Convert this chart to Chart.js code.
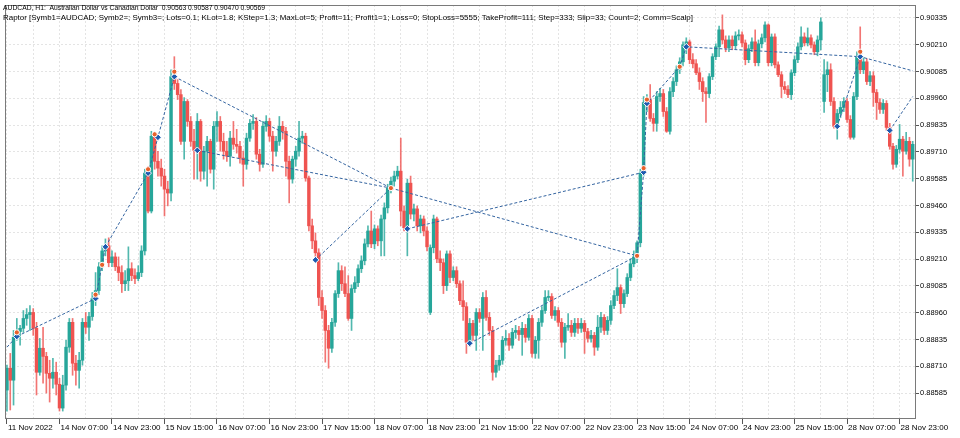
<!DOCTYPE html>
<html>
<head>
<meta charset="utf-8">
<script src="https://cdn.jsdelivr.net/npm/chart.js@4.4.0/dist/chart.umd.min.js"></script>
<style>
  html, body { margin: 0; padding: 0; background: #fff; }
  #wrap { width: 960px; height: 438px; }
</style>
</head>
<body>
<div id="wrap"><canvas id="myChart" width="960" height="438"></canvas></div>
<script>
// AUDCAD H1 candles, 11 Nov 15:00 .. 29 Nov 2022 (one entry per hourly bar)
const opens = [
0.88599,0.88701,0.88645,0.88845,0.88872,0.88887,0.88933,0.88951,0.88961,0.88887,
0.88682,0.88794,0.88756,0.88677,0.88654,0.88682,0.88626,0.88515,0.88622,0.88799,
0.88915,0.88724,0.88691,0.88738,0.88915,0.88892,0.88942,0.89026,0.89063,0.89174,
0.89248,0.89272,0.89193,0.89220,0.89174,0.89147,0.89095,0.89109,0.89165,0.89133,
0.89119,0.89147,0.89248,0.89611,0.89434,0.89783,0.89666,0.89634,0.89597,0.89536,
0.89518,0.90061,0.90029,0.89977,0.89759,0.89945,0.89852,0.89759,0.89717,0.89852,
0.89620,0.89713,0.89759,0.89629,0.89829,0.89852,0.89759,0.89713,0.89690,0.89774,
0.89745,0.89736,0.89681,0.89652,0.89774,0.89843,0.89852,0.89699,0.89652,0.89829,
0.89852,0.89783,0.89713,0.89759,0.89829,0.89806,0.89666,0.89583,0.89676,0.89713,
0.89774,0.89783,0.89588,0.89365,0.89295,0.89239,0.89031,0.88970,0.88877,0.88794,
0.88915,0.89049,0.89156,0.89095,0.89049,0.88933,0.89072,0.89100,0.89165,0.89202,
0.89281,0.89341,0.89281,0.89351,0.89295,0.89397,0.89449,0.89541,0.89573,0.89597,
0.89620,0.89434,0.89356,0.89564,0.89420,0.89444,0.89365,0.89397,0.89341,0.88961,
0.89263,0.89397,0.89211,0.89193,0.89086,0.89234,0.89124,0.89156,0.89095,0.89016,
0.88988,0.88822,0.88910,0.88854,0.88961,0.88933,0.89031,0.88938,0.88877,0.88682,
0.88715,0.88738,0.88831,0.88840,0.88808,0.88868,0.88877,0.88858,0.88887,0.88845,
0.88933,0.88770,0.88831,0.88915,0.88970,0.89031,0.89035,0.88947,0.88970,0.88915,
0.88822,0.88892,0.88901,0.88868,0.88910,0.88887,0.88910,0.88872,0.88840,0.88854,
0.88799,0.88892,0.88938,0.88877,0.88924,0.88993,0.89040,0.89077,0.89002,0.89049,
0.89124,0.89188,0.89220,0.89286,0.89611,0.89940,0.89954,0.89866,0.89843,0.89968,
0.89982,0.89898,0.89806,0.89991,0.90038,0.90093,0.90130,0.90209,0.90223,0.90140,
0.90121,0.90079,0.90038,0.89991,0.89982,0.90061,0.90154,0.90200,0.90279,0.90232,
0.90195,0.90232,0.90205,0.90251,0.90256,0.90218,0.90140,0.90191,0.90223,0.90126,
0.90214,0.90242,0.90302,0.90126,0.90246,0.90116,0.90070,0.90015,0.90001,0.89977,
0.90079,0.90140,0.90200,0.90246,0.90218,0.90242,0.90209,0.90177,0.90232,0.89945,
0.90070,0.90093,0.89945,0.89829,0.89889,0.89917,0.89945,0.89861,0.89778,0.89968,
0.90154,0.90093,0.90130,0.90038,0.90065,0.89987,0.89940,0.89908,0.89936,0.89824,
0.89736,0.89652,0.89722,0.89769,0.89713,0.89759,0.89676
];
const highs = [
0.88715,0.88770,0.88877,0.88933,0.88901,0.88970,0.88979,0.88993,0.88979,0.88915,
0.88840,0.88892,0.88775,0.88738,0.88747,0.88729,0.88654,0.88668,0.88831,0.88933,
0.88933,0.88761,0.88775,0.88933,0.88961,0.88961,0.89054,0.89147,0.89193,0.89272,
0.89304,0.89309,0.89248,0.89239,0.89220,0.89179,0.89156,0.89267,0.89193,0.89165,
0.89179,0.89272,0.89629,0.89643,0.89806,0.89797,0.89713,0.89676,0.89629,0.89573,
0.90093,0.90154,0.90047,0.90001,0.89963,0.89954,0.89875,0.89815,0.89889,0.89861,
0.89736,0.89783,0.89769,0.89852,0.89898,0.89875,0.89797,0.89759,0.89806,0.89852,
0.89815,0.89759,0.89713,0.89797,0.89861,0.89884,0.89870,0.89722,0.89852,0.89879,
0.89866,0.89806,0.89783,0.89875,0.89852,0.89824,0.89690,0.89690,0.89736,0.89852,
0.89806,0.89797,0.89597,0.89397,0.89332,0.89258,0.89063,0.88993,0.88901,0.88933,
0.89063,0.89193,0.89179,0.89174,0.89133,0.89090,0.89128,0.89183,0.89225,0.89304,
0.89365,0.89434,0.89369,0.89365,0.89415,0.89472,0.89559,0.89592,0.89620,0.89643,
0.89774,0.89458,0.89583,0.89597,0.89467,0.89458,0.89415,0.89411,0.89360,0.89276,
0.89415,0.89406,0.89248,0.89211,0.89248,0.89248,0.89174,0.89174,0.89109,0.89109,
0.89007,0.88933,0.88924,0.88979,0.88979,0.89054,0.89063,0.88961,0.88896,0.88738,
0.88761,0.88849,0.88877,0.88863,0.88887,0.88901,0.88896,0.88915,0.88905,0.88951,
0.88947,0.88849,0.88933,0.88988,0.89063,0.89063,0.89049,0.88988,0.88984,0.88933,
0.88910,0.88956,0.88924,0.88933,0.88933,0.88933,0.88924,0.88887,0.88877,0.88868,
0.88947,0.88961,0.88951,0.88942,0.89016,0.89063,0.89165,0.89090,0.89067,0.89142,
0.89211,0.89248,0.89295,0.89629,0.89968,0.89977,0.90024,0.89889,0.89991,0.90006,
0.90001,0.89917,0.90010,0.90056,0.90111,0.90149,0.90223,0.90242,0.90232,0.90168,
0.90140,0.90102,0.90056,0.90010,0.90075,0.90168,0.90214,0.90297,0.90349,0.90251,
0.90251,0.90251,0.90270,0.90279,0.90270,0.90232,0.90209,0.90242,0.90279,0.90232,
0.90260,0.90316,0.90307,0.90260,0.90260,0.90130,0.90084,0.90038,0.90019,0.90093,
0.90158,0.90218,0.90293,0.90265,0.90288,0.90256,0.90223,0.90251,0.90335,0.90140,
0.90130,0.90121,0.89963,0.89908,0.89945,0.89963,0.89959,0.89879,0.89987,0.90177,
0.90293,0.90149,0.90145,0.90084,0.90084,0.90001,0.89959,0.89954,0.89949,0.89843,
0.89750,0.89740,0.89838,0.89783,0.89801,0.89778,0.89759
];
const lows = [
0.88501,0.88506,0.88529,0.88831,0.88808,0.88868,0.88901,0.88877,0.88854,0.88576,
0.88668,0.88631,0.88585,0.88543,0.88608,0.88576,0.88501,0.88501,0.88599,0.88775,
0.88668,0.88622,0.88608,0.88715,0.88863,0.88831,0.88924,0.88993,0.89044,0.89156,
0.89225,0.89174,0.89174,0.89156,0.89109,0.89054,0.89063,0.89063,0.89109,0.89095,
0.89109,0.89128,0.89229,0.89425,0.89425,0.89629,0.89597,0.89550,0.89411,0.89458,
0.89481,0.90001,0.89954,0.89745,0.89676,0.89829,0.89736,0.89583,0.89583,0.89573,
0.89583,0.89550,0.89611,0.89536,0.89759,0.89713,0.89676,0.89666,0.89643,0.89722,
0.89704,0.89657,0.89550,0.89629,0.89759,0.89815,0.89676,0.89620,0.89638,0.89806,
0.89759,0.89620,0.89690,0.89740,0.89769,0.89597,0.89472,0.89564,0.89643,0.89690,
0.89750,0.89573,0.89341,0.89258,0.89193,0.88993,0.88933,0.88729,0.88701,0.88775,
0.88896,0.89031,0.89063,0.89035,0.88924,0.88877,0.89054,0.89081,0.89147,0.89183,
0.89267,0.89263,0.89258,0.89272,0.89225,0.89225,0.89425,0.89518,0.89550,0.89583,
0.89365,0.89341,0.89225,0.89397,0.89388,0.89341,0.89332,0.89318,0.89248,0.88951,
0.89239,0.89193,0.89156,0.89049,0.89063,0.89100,0.89109,0.89077,0.88997,0.88924,
0.88770,0.88803,0.88831,0.88784,0.88915,0.88784,0.88924,0.88854,0.88645,0.88659,
0.88691,0.88719,0.88808,0.88784,0.88794,0.88840,0.88831,0.88761,0.88822,0.88831,
0.88752,0.88747,0.88747,0.88896,0.88956,0.89016,0.88933,0.88924,0.88896,0.88799,
0.88747,0.88877,0.88849,0.88849,0.88863,0.88868,0.88770,0.88822,0.88822,0.88761,
0.88784,0.88868,0.88858,0.88858,0.88905,0.88979,0.89016,0.88956,0.88984,0.89035,
0.89109,0.89174,0.89193,0.89267,0.89597,0.89898,0.89852,0.89806,0.89806,0.89945,
0.89875,0.89801,0.89792,0.89968,0.90019,0.90075,0.90111,0.90168,0.90121,0.90102,
0.90070,0.90001,0.89945,0.89847,0.89963,0.90047,0.90140,0.90154,0.90214,0.90177,
0.90177,0.90186,0.90191,0.90232,0.90200,0.90116,0.90126,0.90177,0.90111,0.90111,
0.90195,0.90223,0.90111,0.90111,0.90102,0.90061,0.89963,0.89982,0.89963,0.89954,
0.90065,0.90126,0.90186,0.90204,0.90204,0.90195,0.90163,0.90158,0.90186,0.89894,
0.89991,0.89926,0.89820,0.89769,0.89870,0.89898,0.89847,0.89769,0.89769,0.89954,
0.90075,0.90075,0.90024,0.90019,0.89922,0.89861,0.89889,0.89889,0.89810,0.89722,
0.89629,0.89638,0.89704,0.89597,0.89699,0.89643,0.89573
];
const closes = [
0.88701,0.88645,0.88845,0.88872,0.88887,0.88933,0.88951,0.88961,0.88887,0.88682,
0.88794,0.88756,0.88677,0.88654,0.88682,0.88626,0.88515,0.88622,0.88799,0.88915,
0.88724,0.88691,0.88738,0.88915,0.88892,0.88942,0.89026,0.89063,0.89174,0.89248,
0.89272,0.89193,0.89220,0.89174,0.89147,0.89095,0.89109,0.89165,0.89133,0.89119,
0.89147,0.89248,0.89611,0.89434,0.89783,0.89666,0.89634,0.89597,0.89536,0.89518,
0.90061,0.90029,0.89977,0.89759,0.89945,0.89852,0.89759,0.89717,0.89852,0.89620,
0.89713,0.89759,0.89629,0.89829,0.89852,0.89759,0.89713,0.89690,0.89774,0.89745,
0.89736,0.89681,0.89652,0.89774,0.89843,0.89852,0.89699,0.89652,0.89829,0.89852,
0.89783,0.89713,0.89759,0.89829,0.89806,0.89666,0.89583,0.89676,0.89713,0.89774,
0.89783,0.89588,0.89365,0.89295,0.89239,0.89031,0.88970,0.88877,0.88794,0.88915,
0.89049,0.89156,0.89095,0.89049,0.88933,0.89072,0.89100,0.89165,0.89202,0.89281,
0.89341,0.89281,0.89351,0.89295,0.89397,0.89449,0.89541,0.89573,0.89597,0.89620,
0.89434,0.89356,0.89564,0.89420,0.89444,0.89365,0.89397,0.89341,0.89267,0.89263,
0.89397,0.89211,0.89193,0.89086,0.89234,0.89124,0.89156,0.89095,0.89016,0.88988,
0.88822,0.88910,0.88854,0.88961,0.88933,0.89031,0.88938,0.88877,0.88682,0.88715,
0.88738,0.88831,0.88840,0.88808,0.88868,0.88877,0.88858,0.88887,0.88845,0.88933,
0.88770,0.88831,0.88915,0.88970,0.89031,0.89035,0.88947,0.88970,0.88915,0.88822,
0.88892,0.88901,0.88868,0.88910,0.88887,0.88910,0.88872,0.88840,0.88854,0.88799,
0.88892,0.88938,0.88877,0.88924,0.88993,0.89040,0.89077,0.89002,0.89049,0.89124,
0.89188,0.89220,0.89286,0.89611,0.89940,0.89954,0.89866,0.89843,0.89968,0.89982,
0.89898,0.89806,0.89991,0.90038,0.90093,0.90130,0.90209,0.90223,0.90140,0.90121,
0.90079,0.90038,0.89991,0.89982,0.90061,0.90154,0.90200,0.90279,0.90232,0.90195,
0.90232,0.90205,0.90251,0.90256,0.90218,0.90140,0.90191,0.90223,0.90126,0.90214,
0.90242,0.90302,0.90126,0.90246,0.90116,0.90070,0.90015,0.90001,0.89977,0.90079,
0.90140,0.90200,0.90246,0.90218,0.90242,0.90209,0.90177,0.90232,0.90316,0.90070,
0.90093,0.89945,0.89829,0.89889,0.89917,0.89945,0.89861,0.89778,0.89968,0.90154,
0.90093,0.90130,0.90038,0.90065,0.89987,0.89940,0.89908,0.89936,0.89824,0.89736,
0.89652,0.89722,0.89769,0.89713,0.89759,0.89676,0.89745
];

// time axis: one label every 16 bars, grid every 8
const tickLabels = ['11 Nov 2022','14 Nov 07:00','14 Nov 23:00','15 Nov 15:00','16 Nov 07:00','16 Nov 23:00',
  '17 Nov 15:00','18 Nov 07:00','18 Nov 23:00','21 Nov 15:00','22 Nov 07:00','22 Nov 23:00',
  '23 Nov 15:00','24 Nov 07:00','24 Nov 23:00','25 Nov 15:00','28 Nov 07:00','28 Nov 23:00'];
const priceTicks = [0.88585,0.88710,0.88835,0.88960,0.89085,0.89210,0.89335,0.89460,
  0.89585,0.89710,0.89835,0.89960,0.90085,0.90210,0.90335];

// Raptor zigzag lines: [bar index, price]
const lineUp1 = [[0,0.88799],[3,0.88849],[27,0.89026],[30,0.89267],[43,0.89611],[46,0.89778],[51,0.90061]];
const lineDown1 = [[51,0.90061],[117,0.89541]];
const lineDown2 = [[58,0.89717],[117,0.89541]];
const lineUp2 = [[94,0.89206],[117,0.89541]];
const lineDown3 = [[117,0.89541],[192,0.89225]];
const lineUp3 = [[122,0.89351],[194,0.89615]];
const lineUp4 = [[141,0.88817],[192,0.89225],[194,0.89615],[195,0.89936],[205,0.90107],[207,0.90200],[260,0.90154],[276,0.90088]];
const lineUp5 = [[253,0.89829],[260,0.90154]];
const lineUp6 = [[269,0.89810],[276,0.89968]];

const blueMarks = [[3,0.88849],[27,0.89026],[30,0.89267],[43,0.89611],[46,0.89778],[51,0.90061],[58,0.89717],
  [94,0.89206],[122,0.89351],[141,0.88817],[194,0.89615],[195,0.89936],[207,0.90200],[253,0.89829],[260,0.90154],[269,0.89810]];
const orangeMarks = [[3,0.88868],[27,0.89044],[29,0.89183],[43,0.89629],[45,0.89792],[51,0.90084],[117,0.89541],
  [192,0.89225],[194,0.89634],[195,0.89954],[205,0.90107],[260,0.90177]];

const header1 = 'AUDCAD, H1:  Australian Dollar vs Canadian Dollar  0.90563 0.90587 0.90470 0.90569';
const header2 = 'Raptor [Symb1=AUDCAD; Symb2=; Symb3=; Lots=0.1; KLot=1.8; KStep=1.3; MaxLot=5; Profit=11; Profit1=1; Loss=0; StopLoss=5555; TakeProfit=111; Step=333; Slip=33; Count=2; Comm=Scalp]';

const bull = '#26a69a', bear = '#ef5350';
const FONT = 'Liberation Sans';

const bodies = opens.map((o, i) => ({x: i, y: [o, closes[i]]}));
const wicks = opens.map((o, i) => ({x: i, y: [lows[i], highs[i]]}));
const bodyColors = opens.map((o, i) => closes[i] >= o ? bull : bear);
const wickColors = opens.map((o, i) => closes[i] >= o ? 'rgba(38,166,154,0.8)' : 'rgba(239,83,80,0.8)');
const pts = arr => arr.map(p => ({x: p[0], y: p[1]}));

function zig(arr) {
  return {type: 'line', data: pts(arr), borderColor: '#3464a0', borderWidth: 1, borderDash: [3, 2],
    pointRadius: 0, fill: false, tension: 0};
}

const frame = {
  id: 'frame',
  afterDraw(chart) {
    const c = chart.ctx, a = chart.chartArea;
    c.save();
    c.strokeStyle = '#7a7a7a';
    c.lineWidth = 1;
    c.strokeRect(a.left + 0.5, a.top + 0.5, a.right - a.left - 1, a.bottom - a.top - 1);
    c.fillStyle = '#000';
    c.font = '8px "' + FONT + '"';
    c.textBaseline = 'alphabetic';
    c.fillText(header1, 3, 10, 262);
    c.fillText(header2, 3, 20, 690);
    c.restore();
  }
};

new Chart(document.getElementById('myChart'), {
  type: 'bar',
  data: {
    datasets: [
      {type: 'line', data: pts(orangeMarks), showLine: false, pointStyle: 'circle', pointRadius: 2.6,
        pointBackgroundColor: '#e8612c', pointBorderColor: '#ffffff', pointBorderWidth: 1},
      {type: 'line', data: pts(blueMarks), showLine: false, pointStyle: 'rectRot', pointRadius: 3.4,
        pointBackgroundColor: '#1e5bb0', pointBorderColor: '#ffffff', pointBorderWidth: 1},
      zig(lineUp1), zig(lineDown1), zig(lineDown2), zig(lineUp2), zig(lineDown3),
      zig(lineUp3), zig(lineUp4), zig(lineUp5), zig(lineUp6),
      {data: bodies, backgroundColor: bodyColors, barThickness: 2.8, minBarLength: 1, grouped: false},
      {data: wicks, backgroundColor: wickColors, barThickness: 1, grouped: false}
    ]
  },
  options: {
    responsive: false,
    animation: false,
    events: [],
    layout: {padding: {top: 3, left: 0, right: 0, bottom: 0}},
    plugins: {legend: {display: false}, tooltip: {enabled: false}},
    scales: {
      x: {
        type: 'linear', min: -0.6, max: 277, offset: false,
        afterBuildTicks: s => { s.ticks = tickLabels.flatMap((t, k) => [{value: k * 16}, {value: k * 16 + 8}]).filter(t => t.value <= 276); },
        afterFit: s => { s.height = 19; s.paddingLeft = 0; s.paddingRight = 0; },
        grid: {offset: false, color: '#e4e4e4', tickLength: 5,
          tickColor: c => (c.tick && c.tick.value % 16 === 0) ? '#555' : 'rgba(0,0,0,0)'},
        border: {display: false, dash: [2, 2]},
        ticks: {autoSkip: false, maxRotation: 0, align: 'start', labelOffset: 1, padding: -1, color: '#000',
          font: {family: FONT, size: 8},
          callback: v => v % 16 === 0 ? tickLabels[v / 16] : ''}
      },
      y: {
        type: 'linear', position: 'right', min: 0.88464, max: 0.90395, beginAtZero: false, bounds: 'data',
        afterBuildTicks: s => { s.ticks = priceTicks.map(v => ({value: v})); },
        afterFit: s => { s.width = 44; s.paddingTop = 0; s.paddingBottom = 0; },
        grid: {color: '#e4e4e4', tickLength: 3, tickColor: '#555'},
        border: {display: false, dash: [2, 2]},
        ticks: {padding: 1, color: '#000', font: {family: FONT, size: 7.5}, callback: v => v.toFixed(5)}
      }
    }
  },
  plugins: [frame]
});
</script>
</body>
</html>
